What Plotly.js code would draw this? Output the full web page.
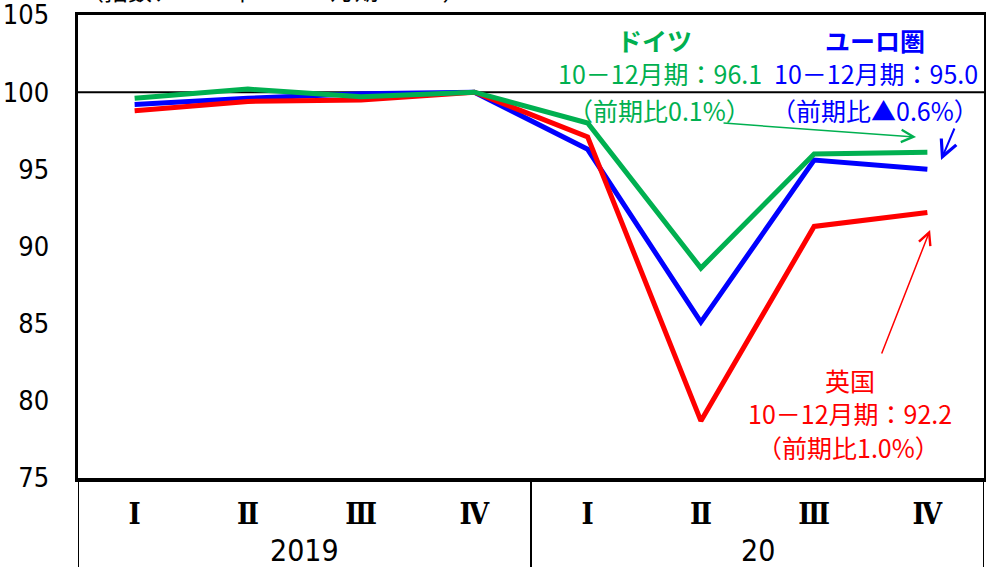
<!DOCTYPE html>
<html>
<head>
<meta charset="utf-8">
<script src="https://cdn.plot.ly/plotly-3.0.1.min.js"></script>
<style>html,body{margin:0;padding:0;background:#fff;}#chart{width:986px;height:567px;}</style>
</head>
<body>
<div id="chart"></div>
<script>
// ---- data ----
const years = ['2019', '2019', '2019', '2019', '20', '20', '20', '20'];
const quarters = ['Ⅰ', 'Ⅱ', 'Ⅲ', 'Ⅳ', 'Ⅰ', 'Ⅱ', 'Ⅲ', 'Ⅳ'];
const yearGroups = ['2019', '20'];
const euroArea = [99.2, 99.6, 99.9, 100.0, 96.3, 85.1, 95.6, 95.0];
const uk = [98.8, 99.4, 99.5, 100.0, 97.1, 78.7, 91.3, 92.2];
const germany = [99.6, 100.2, 99.7, 100.0, 98.0, 88.6, 96.0, 96.1];
const yTicks = [75, 80, 85, 90, 95, 100, 105];

const cats = years.map((y, i) => y + '-' + quarters[i] + '-' + i);

const JP = '"Noto Sans CJK JP", "Noto Sans", sans-serif';
const NUM = '"Liberation Sans Narrow", "DejaVu Sans Condensed", sans-serif';

function line(vals, color) {
  return {x: cats, y: vals, type: 'scatter', mode: 'lines',
    line: {color: color, width: 5}, hoverinfo: 'skip', showlegend: false};
}
const data = [line(euroArea, '#0000FF'), line(uk, '#FF0000'), line(germany, '#00B050')];

function txt(t, x, y, color, bold) {
  return {text: bold ? '<b>' + t + '</b>' : t, xref: 'paper', yref: 'paper', x: x, y: y,
    xanchor: 'center', yanchor: 'middle', showarrow: false,
    font: {family: JP, size: 25, color: color}};
}
function arrow(x, y, ax, ay, color, w) {
  return {text: '', xref: 'paper', yref: 'paper', x: x, y: y, ax: ax, ay: ay,
    showarrow: true, arrowhead: 5, arrowsize: 1.6, arrowwidth: w, arrowcolor: color};
}

const annotations = [
  {text: '（指数、2019年10－12月期＝100）', xref: 'paper', yref: 'paper', x: 0, y: 1,
   xanchor: 'left', yanchor: 'middle', yshift: 26, showarrow: false,
   font: {family: JP, size: 24, color: '#000'}},
  txt('ドイツ', 0.636, 0.946, '#00B050', true),
  txt('10－12月期：96.1', 0.642, 0.875, '#00B050'),
  txt('（前期比0.1%）', 0.642, 0.795, '#00B050'),
  txt('ユーロ圏', 0.880, 0.946, '#0000FF', true),
  txt('10－12月期：95.0', 0.881, 0.875, '#0000FF'),
  txt('（前期比▲0.6%）', 0.880, 0.795, '#0000FF'),
  txt('英国', 0.852, 0.212, '#FF0000'),
  txt('10－12月期：92.2', 0.852, 0.140, '#FF0000'),
  txt('（前期比1.0%）', 0.850, 0.067, '#FF0000'),
  arrow(0.925, 0.7365, -194, -14, '#00B050', 1.5),
  arrow(0.9526, 0.6868, 14, -33, '#0000FF', 2),
  arrow(0.9405, 0.5356, -49, 125, '#FF0000', 1.5),
];
yearGroups.forEach((g) => {
  const idx = years.map((y, i) => y === g ? i : -1).filter(i => i >= 0);
  const mid = (idx[0] + idx[idx.length - 1]) / 2;
  annotations.push({text: g, xref: 'x', yref: 'paper', x: mid, y: -0.157,
    xanchor: 'center', yanchor: 'middle', showarrow: false,
    font: {family: NUM, size: 30, color: '#000'}});
});

const shapes = [
  {type: 'line', xref: 'paper', yref: 'y', x0: 0, x1: 1, y0: 100, y1: 100,
   line: {color: '#000', width: 2}, layer: 'below'},
  {type: 'line', xref: 'x', yref: 'paper', x0: -0.5, x1: -0.5, y0: -0.25, y1: 0, line: {color: '#000', width: 2}},
  {type: 'line', xref: 'x', yref: 'paper', x0: 3.5, x1: 3.5, y0: -0.25, y1: 0, line: {color: '#000', width: 2}},
  {type: 'line', xref: 'x', yref: 'paper', x0: 7.5, x1: 7.5, y0: -0.25, y1: 0, line: {color: '#000', width: 2}},
];

const layout = {
  width: 986, height: 567,
  margin: {l: 78, r: 2, t: 15, b: 89},
  paper_bgcolor: '#fff', plot_bgcolor: '#fff',
  showlegend: false,
  xaxis: {type: 'category', range: [-0.5, 7.5], tickvals: cats, ticktext: quarters.map(q => '<b>' + q + '</b>'),
    showgrid: false, zeroline: false, ticks: '', ticklabelstandoff: 8,
    showline: true, mirror: true, linewidth: 3.5, linecolor: '#000',
    tickfont: {family: '"DejaVu Serif Condensed", "DejaVu Serif", serif', size: 29, color: '#000'},
    fixedrange: true},
  yaxis: {range: [75, 105], tickvals: yTicks, ticktext: yTicks.map(String),
    showgrid: false, zeroline: false, ticks: '', ticklabelstandoff: 20,
    ticklabeloverflow: 'allow',
    showline: true, mirror: true, linewidth: 3.5, linecolor: '#000',
    tickfont: {family: NUM, size: 27, color: '#000'}, fixedrange: true},
  annotations: annotations,
  shapes: shapes,
};
Plotly.newPlot('chart', data, layout, {staticPlot: true, displayModeBar: false});
</script>
</body>
</html>
